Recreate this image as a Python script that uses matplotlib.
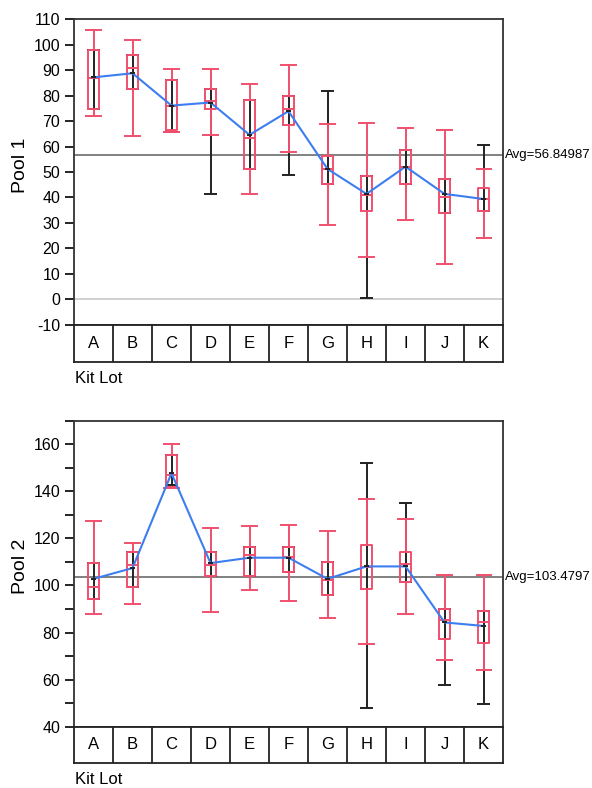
import numpy as np
import matplotlib
matplotlib.use("Agg")
import matplotlib.pyplot as plt

plt.rcParams["font.family"] = ["Liberation Sans", "DejaVu Sans"]
plt.rcParams["axes.unicode_minus"] = False

lots = ["A", "B", "C", "D", "E", "F", "G", "H", "I", "J", "K"]

# Pool 1
mean1 = [87.2, 88.8, 76.1, 77.3, 64.6, 73.9, 51.2, 41.4, 52.1, 41.4, 39.4]
med1 = [86.8, 90.8, 76.0, 77.8, 63.4, 74.6, 51.0, 41.0, 52.0, 40.2, 39.5]
q1_1 = [74.8, 82.6, 66.5, 74.8, 51.3, 68.6, 45.4, 34.7, 45.4, 34.0, 34.7]
q3_1 = [97.9, 96.0, 86.0, 82.6, 78.2, 80.0, 56.3, 48.6, 58.7, 47.1, 43.9]
wlo1 = [72.0, 64.0, 65.9, 64.6, 41.4, 57.9, 29.2, 16.5, 31.3, 14.0, 24.0]
whi1 = [105.9, 102.0, 90.6, 90.6, 84.6, 91.9, 68.8, 69.2, 67.3, 66.6, 51.2]
rlo1 = [74.8, 82.6, 65.9, 41.4, 51.3, 48.7, 45.4, 0.6, 45.4, 34.0, 34.7]
rhi1 = [97.9, 96.0, 86.0, 82.6, 78.2, 80.0, 82.0, 48.6, 58.7, 47.1, 60.6]
avg1 = 56.84987

# Pool 2
mean2 = [102.8, 107.4, 147.7, 109.5, 111.8, 111.8, 102.8, 108.1, 108.1, 84.3, 82.8]
med2 = [99.3, 108.9, 147.0, 108.5, 112.9, 112.0, 102.4, 108.0, 109.1, 85.4, 84.5]
q1_2 = [94.2, 99.3, 142.0, 104.2, 104.2, 105.8, 95.8, 98.7, 101.6, 77.3, 75.6]
q3_2 = [109.5, 114.4, 155.5, 114.4, 116.5, 116.5, 110.1, 117.1, 114.4, 89.8, 89.3]
wlo2 = [87.9, 92.2, 141.2, 88.7, 97.9, 93.6, 86.3, 75.0, 87.9, 68.3, 64.1]
whi2 = [127.3, 118.1, 160.0, 124.5, 125.2, 125.9, 123.1, 136.8, 128.3, 104.4, 104.4]
rlo2 = [94.2, 99.3, 142.7, 104.2, 104.2, 105.8, 95.8, 48.1, 101.6, 57.7, 49.8]
rhi2 = [109.5, 114.4, 155.5, 114.4, 116.5, 116.5, 110.1, 151.9, 135.1, 89.8, 89.3]
avg2 = 103.4797

RED = "#f0506e"
BLUE = "#3c7ef0"
BLACK = "#222222"


def draw_panel(ax, axc, mean, med, q1, q3, wlo, whi, rlo, rhi, avg, ylim, major, minor, ylabel, ylab_y):
    x = np.arange(len(lots))
    # black range bars
    ax.vlines(x, rlo, rhi, color=BLACK, lw=1.4, zorder=2)
    ax.hlines(rlo, x - 0.17, x + 0.17, color=BLACK, lw=1.4, zorder=2)
    ax.hlines(rhi, x - 0.17, x + 0.17, color=BLACK, lw=1.4, zorder=2)
    # red box plots
    stats = [dict(med=med[i], q1=q1[i], q3=q3[i], whislo=wlo[i], whishi=whi[i], fliers=[])
             for i in range(len(lots))]
    rp = dict(color=RED, lw=1.4)
    ax.bxp(stats, positions=x, widths=0.3, capwidths=0.36, showfliers=False,
           boxprops=rp, whiskerprops=rp, capprops=rp, medianprops=rp,
           manage_ticks=False, zorder=3)
    # means
    ax.plot(x, mean, color=BLUE, lw=1.5, zorder=4)
    ax.hlines(mean, x - 0.07, x + 0.07, color=BLACK, lw=1.4, zorder=5)
    ax.axhline(avg, color="#808080", lw=1.4, zorder=1)
    ax.text(1.005, avg, f"Avg={avg}", transform=ax.get_yaxis_transform(),
            va="center", ha="left", fontsize=9.5)
    ax.set_xlim(-0.5, len(lots) - 0.5)
    ax.set_ylim(*ylim)
    ax.set_xticks([])
    ax.set_yticks(major)
    ax.set_yticks(minor, minor=True)
    ax.tick_params(axis="y", which="both", direction="out", length=6.5, width=1.2, labelsize=11.5)
    for s in ax.spines.values():
        s.set_color("#333333")
        s.set_linewidth(1.3)
    ax.figure.text(0.034, ylab_y, ylabel, rotation=90, ha="center", va="center", fontsize=14)
    # category row
    axc.set_xlim(-0.5, len(lots) - 0.5)
    axc.set_ylim(0, 1)
    axc.set_xticks([])
    axc.set_yticks([])
    for i, lab in enumerate(lots):
        axc.text(i, 0.5, lab, ha="center", va="center", fontsize=12)
        if i > 0:
            axc.axvline(i - 0.5, color=BLACK, lw=1.3)
    for s in axc.spines.values():
        s.set_color(BLACK)
        s.set_linewidth(1.3)


fig = plt.figure(figsize=(5.92, 7.88), dpi=100)
L, W = 0.125, 0.7247

ax1 = fig.add_axes([L, 0.5879, W, 0.3876])
axc1 = fig.add_axes([L, 0.5410, W, 0.0469])
ax1.axhline(0, color="#c8c8c8", lw=1.2, zorder=1)
draw_panel(ax1, axc1, mean1, med1, q1_1, q3_1, wlo1, whi1, rlo1, rhi1, avg1,
           (-10, 110), np.arange(-10, 111, 10), [], "Pool 1", 0.790)
fig.text(0.127, 0.520, "Kit Lot", ha="left", va="center", fontsize=12)

ax2 = fig.add_axes([L, 0.0778, W, 0.3883])
axc2 = fig.add_axes([L, 0.0321, W, 0.0457])
draw_panel(ax2, axc2, mean2, med2, q1_2, q3_2, wlo2, whi2, rlo2, rhi2, avg2,
           (40, 170), np.arange(40, 161, 20), np.arange(50, 171, 20), "Pool 2", 0.281)
fig.text(0.127, 0.0114, "Kit Lot", ha="left", va="center", fontsize=12)

fig.savefig("out.png", dpi=100)
